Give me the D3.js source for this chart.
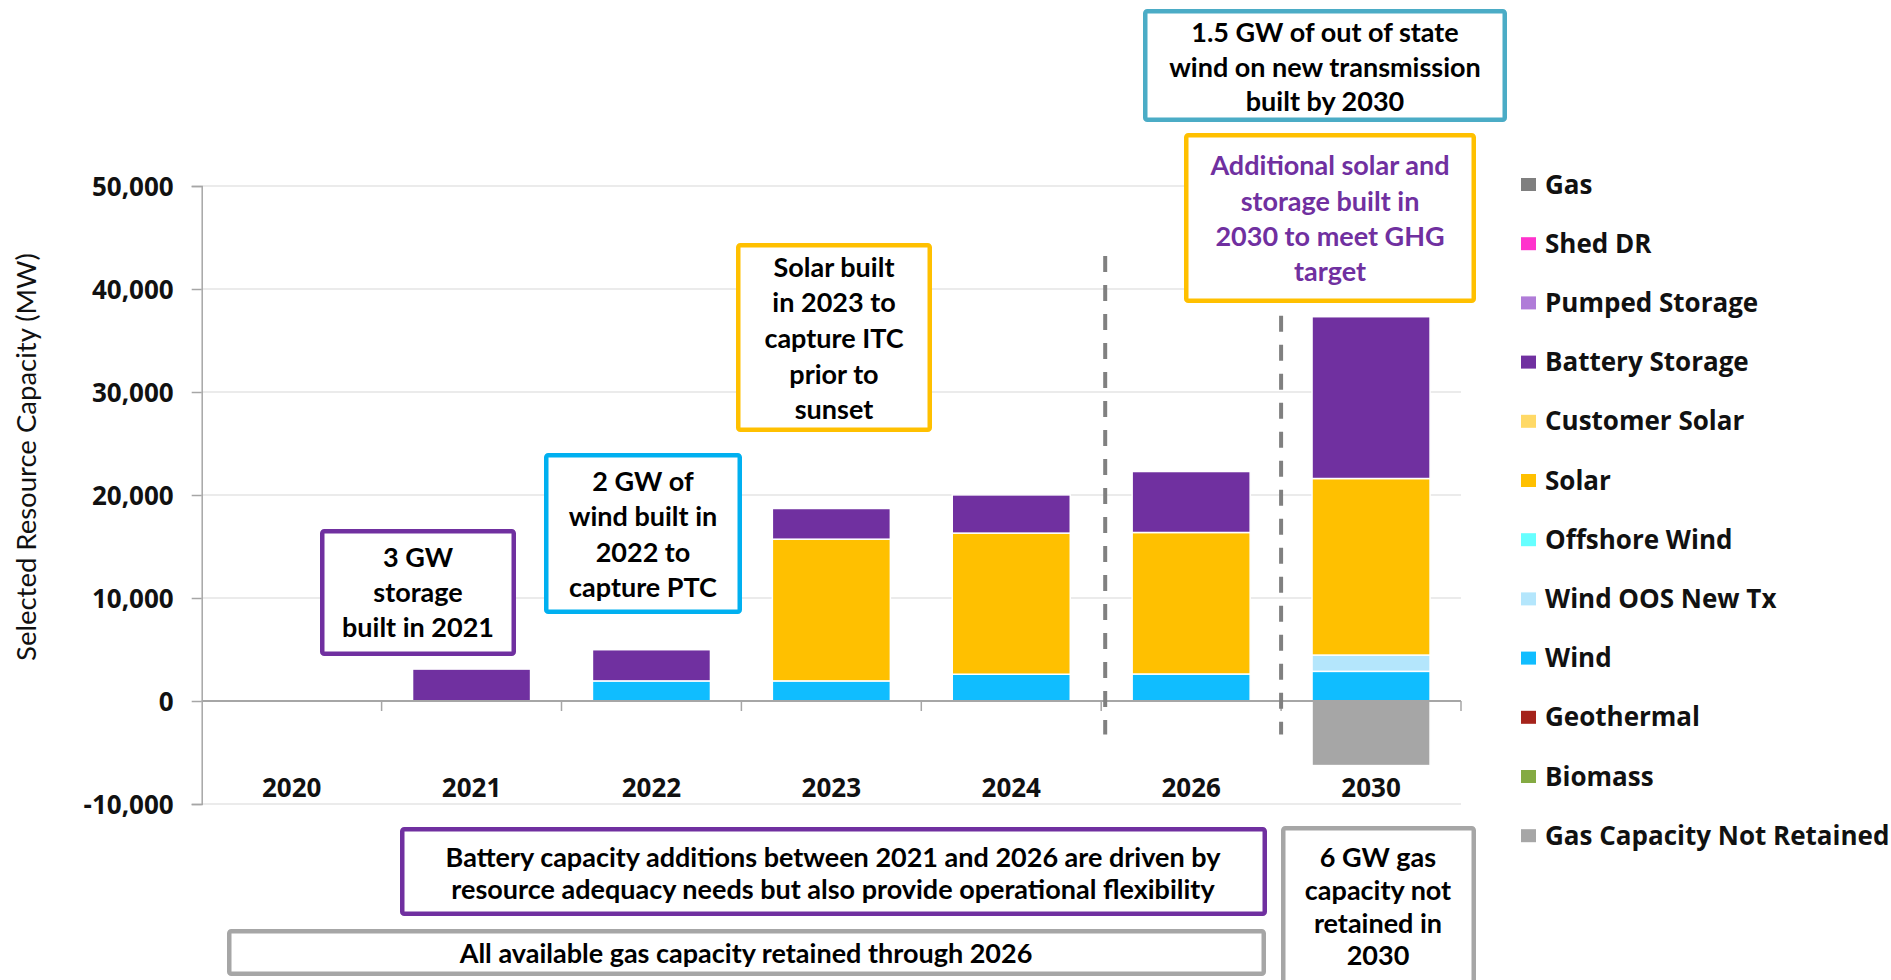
<!DOCTYPE html>
<html><head><meta charset="utf-8">
<script src="https://cdn.jsdelivr.net/npm/d3@7"></script>
<style>body{margin:0;background:#fff} svg{display:block}</style>
</head><body><svg id="chart" width="1891" height="980"></svg>
<script>
// ---------- DATA ----------
const categories = ["2020", "2021", "2022", "2023", "2024", "2026", "2030"];
const gas            = [0, 0, 0, 0, 0, 0, 0];
const shedDR         = [0, 0, 0, 0, 0, 0, 0];
const pumpedStorage  = [0, 0, 0, 0, 0, 0, 0];
const batteryStorage = [0, 3100, 3030, 2980, 3710, 5920, 15710];
const customerSolar  = [0, 0, 0, 0, 0, 0, 0];
const solar          = [0, 0, 0, 13760, 13700, 13740, 17140];
const offshoreWind   = [0, 0, 0, 0, 0, 0, 0];
const windOOSNewTx   = [0, 0, 0, 0, 0, 0, 1580];
const wind           = [0, 0, 1950, 1950, 2600, 2620, 2880];
const geothermal     = [0, 0, 0, 0, 0, 0, 0];
const biomass        = [0, 0, 0, 0, 0, 0, 0];
const gasNotRetained = [0, 0, 0, 0, 0, 0, -6270];
const yTickValues = [-10000, 0, 10000, 20000, 30000, 40000, 50000];
const yAxisTitle = "Selected Resource Capacity (MW)";
const dividerAfter = ["2024", "2026"];   // dashed separators before 2026 and 2030
const dividerTopValues = [43200, 37400];
const dividerBottomValue = -3250;

const seriesTable = [
  ["Gas Capacity Not Retained", gasNotRetained],
  ["Biomass", biomass],
  ["Geothermal", geothermal],
  ["Wind", wind],
  ["Wind OOS New Tx", windOOSNewTx],
  ["Offshore Wind", offshoreWind],
  ["Solar", solar],
  ["Customer Solar", customerSolar],
  ["Battery Storage", batteryStorage],
  ["Pumped Storage", pumpedStorage],
  ["Shed DR", shedDR],
  ["Gas", gas]
];
const legendOrder = ["Gas", "Shed DR", "Pumped Storage", "Battery Storage", "Customer Solar", "Solar",
  "Offshore Wind", "Wind OOS New Tx", "Wind", "Geothermal", "Biomass", "Gas Capacity Not Retained"];

// ---------- STYLE ----------
const colors = {
  "Gas": "#7f7f7f", "Shed DR": "#ff33cc", "Pumped Storage": "#b07cd8", "Battery Storage": "#7030a0",
  "Customer Solar": "#ffd966", "Solar": "#ffc000", "Offshore Wind": "#66ffff", "Wind OOS New Tx": "#b4e6fc",
  "Wind": "#10bdff", "Geothermal": "#a5231b", "Biomass": "#84aa42", "Gas Capacity Not Retained": "#a6a6a6"
};
const boldFont = "'Open Sans', 'DejaVu Sans', sans-serif";
const noteFont = "Lato, 'Open Sans', sans-serif";

const svg = d3.select("#chart");
const plot = {left: 201.7, right: 1461, top: 186, bottom: 804};

const x = d3.scaleBand().domain(categories).range([plot.left, plot.right]).paddingInner(0.344).paddingOuter(0.172);
const y = d3.scaleLinear().domain([-10000, 50000]).range([plot.bottom, plot.top]);

const rows = categories.map((c, i) => {
  const r = {cat: c};
  seriesTable.forEach(([k, arr]) => r[k] = arr[i]);
  return r;
});
const stack = d3.stack().keys(seriesTable.map(s => s[0])).offset(d3.stackOffsetDiverging);
const stacked = stack(rows);

// gridlines
svg.append("g").selectAll("line").data(yTickValues.filter(v => v !== 0)).join("line")
  .attr("x1", plot.left).attr("x2", plot.right)
  .attr("y1", d => y(d)).attr("y2", d => y(d))
  .attr("stroke", "#e4e4e4").attr("stroke-width", 1.5);

// y axis
const fmt = d3.formatLocale({decimal: ".", thousands: ",", grouping: [3], currency: ["$", ""], minus: "-"}).format(",");
const yAxis = svg.append("g").attr("transform", `translate(${plot.left},0)`)
  .call(d3.axisLeft(y).tickValues(yTickValues).tickSize(10).tickPadding(18).tickFormat(fmt));
yAxis.select(".domain").attr("stroke", "#a6a6a6").attr("stroke-width", 1.5);
yAxis.selectAll(".tick line").attr("stroke", "#a6a6a6").attr("stroke-width", 1.5);
yAxis.selectAll(".tick text").attr("font-family", boldFont).attr("font-weight", 700)
  .attr("font-size", 26).attr("fill", "#111").attr("dy", "0.35em");

// y axis title
svg.append("text").attr("transform", `translate(26,457) rotate(-90)`)
  .attr("text-anchor", "middle").attr("dy", "0.35em")
  .attr("font-family", noteFont).attr("font-size", 27.5).attr("fill", "#111").text(yAxisTitle);

// bars
const gap = (x.step() - x.bandwidth()) / 2;
svg.append("g").selectAll("g").data(stacked).join("g")
  .attr("fill", d => colors[d.key])
  .selectAll("rect").data(d => d.filter(p => p[1] !== p[0])).join("rect")
  .attr("x", d => x(d.data.cat))
  .attr("width", x.bandwidth())
  .attr("y", d => y(Math.max(d[0], d[1])))
  .attr("height", d => Math.abs(y(d[0]) - y(d[1])))
  .attr("stroke", "#fff").attr("stroke-width", 1.5);

// x axis (zero line + boundary ticks)
const xAxisG = svg.append("g");
xAxisG.append("line").attr("x1", plot.left).attr("x2", plot.right).attr("y1", y(0)).attr("y2", y(0))
  .attr("stroke", "#a6a6a6").attr("stroke-width", 2);
const bounds = categories.slice(1).map(c => x(c) - gap).concat([plot.right]);
xAxisG.selectAll("line.tk").data(bounds).join("line").attr("class", "tk")
  .attr("x1", d => d).attr("x2", d => d).attr("y1", y(0)).attr("y2", y(0) + 10)
  .attr("stroke", "#a6a6a6").attr("stroke-width", 1.5);
xAxisG.selectAll("text").data(categories).join("text")
  .attr("x", d => x(d) + x.bandwidth() / 2).attr("y", 788).attr("dy", "0.35em")
  .attr("text-anchor", "middle").attr("font-family", boldFont).attr("font-weight", 700)
  .attr("font-size", 26).attr("fill", "#111").text(d => d);

// dashed dividers
svg.append("g").selectAll("line").data(dividerAfter).join("line")
  .attr("x1", (d, i) => x(d) + x.bandwidth() + gap + (i === 0 ? 4 : 0))
  .attr("x2", (d, i) => x(d) + x.bandwidth() + gap + (i === 0 ? 4 : 0))
  .attr("y1", (d, i) => y(dividerTopValues[i])).attr("y2", y(dividerBottomValue))
  .attr("stroke", "#808080").attr("stroke-width", 4).attr("stroke-dasharray", "16,13");

// legend
const legend = svg.append("g").selectAll("g").data(legendOrder).join("g")
  .attr("transform", (d, i) => `translate(1521,${184.5 + i * 59.2})`);
legend.append("rect").attr("x", 0).attr("y", -6.5).attr("width", 15).attr("height", 13)
  .attr("fill", d => colors[d]);
legend.append("text").attr("x", 24).attr("dy", "0.35em")
  .attr("font-family", boldFont).attr("font-weight", 700).attr("font-size", 26).attr("fill", "#111")
  .text(d => d);

// annotations
const notes = [
  {lines: ["3 GW", "storage", "built in 2021"], box: [320, 529, 516, 656], stroke: "#7030a0", cx: 418, ly: [558, 593, 628]},
  {lines: ["2 GW of", "wind built in", "2022 to", "capture PTC"], box: [544, 453, 742, 614], stroke: "#00b0f0", cx: 643, ly: [482, 517, 553, 588]},
  {lines: ["Solar built", "in 2023 to", "capture ITC", "prior to", "sunset"], box: [736, 243, 932, 432], stroke: "#ffc000", cx: 834, ly: [268, 303, 339, 375, 410]},
  {lines: ["1.5 GW of out of state", "wind on new transmission", "built by 2030"], box: [1143, 9, 1507, 122], stroke: "#4bacc6", cx: 1325, ly: [33, 68, 102]},
  {lines: ["Additional solar and", "storage built in", "2030 to meet GHG", "target"], box: [1184, 133, 1476, 303], stroke: "#ffc000", cx: 1330, ly: [166, 202, 237, 272], color: "#7030a0"},
  {lines: ["Battery capacity additions between 2021 and 2026 are driven by", "resource adequacy needs but also provide operational flexibility"], box: [400, 827, 1267, 916], stroke: "#7030a0", cx: 833, ly: [858, 890]},
  {lines: ["All available gas capacity retained through 2026"], box: [227, 929, 1266, 976], stroke: "#a6a6a6", cx: 746, ly: [954]},
  {lines: ["6 GW gas", "capacity not", "retained in", "2030"], box: [1281, 826, 1476, 985], stroke: "#a6a6a6", cx: 1378, ly: [858, 891, 924, 956]}
];
const sw = 4.5;
const ng = svg.append("g").selectAll("g").data(notes).join("g");
ng.append("rect")
  .attr("x", d => d.box[0] + sw / 2).attr("y", d => d.box[1] + sw / 2)
  .attr("width", d => d.box[2] - d.box[0] - sw).attr("height", d => d.box[3] - d.box[1] - sw)
  .attr("rx", 2).attr("fill", "#fff").attr("stroke", d => d.stroke).attr("stroke-width", sw);
ng.each(function(d) {
  d3.select(this).selectAll("text").data(d.lines).join("text")
    .attr("x", d.cx).attr("y", (t, i) => d.ly[i]).attr("dy", "0.35em")
    .attr("text-anchor", "middle").attr("font-family", noteFont).attr("font-weight", 700)
    .attr("font-size", 27).attr("fill", d.color || "#000").text(t => t);
});
</script>
</body></html>
